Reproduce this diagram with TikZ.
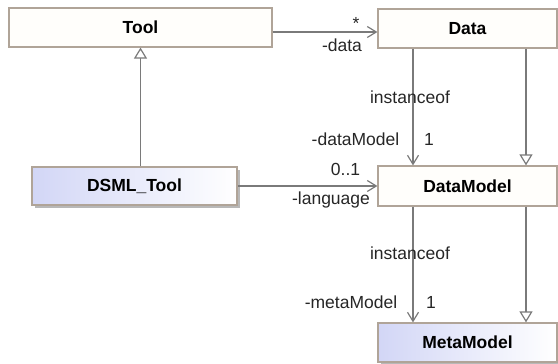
\documentclass[tikz,border=0pt]{standalone}
\usepackage{fontspec}
\setmainfont{Liberation Sans}
\usetikzlibrary{arrows.meta,shadows}

\definecolor{edgegray}{HTML}{7A7A7A}
\definecolor{boxborder}{HTML}{B0A498}
\definecolor{boxfill}{HTML}{FFFEFB}
\definecolor{lavender}{HTML}{D2D6F6}

\tikzset{
  classbox/.style={draw=boxborder, line width=1.2pt, fill=boxfill, rectangle,
    inner sep=0pt, font=\fontsize{17.5}{20}\selectfont\bfseries},
  specialbox/.style={classbox, left color=lavender, right color=white,
    drop shadow={shadow xshift=3pt, shadow yshift=-3pt, fill=black!28, opacity=1}},
  link/.style={draw=edgegray, line width=1.3pt},
  assoc/.style={link, -{Straight Barb[length=9pt,width=11pt,line width=1.2pt]}},
  inherit/.style={link, -{Triangle[open,length=11pt,width=13pt,fill=white,line width=1.2pt]}},
  lbl/.style={font=\fontsize{17.5}{20}\selectfont, inner sep=0pt, text=black!85},
}

\begin{document}
\begin{tikzpicture}[x=1pt,y=-1pt]
  \useasboundingbox (0,0) rectangle (558,364);

  % classes
  \node[classbox, minimum width=263pt, minimum height=39pt] (tool) at (140.5,27.5) {Tool};
  \node[classbox, minimum width=179pt, minimum height=39pt] (data) at (467.5,28.5) {Data};
  \node[specialbox, minimum width=205pt, minimum height=38pt] (dsml) at (134.5,186) {DSML\_Tool};
  \node[classbox, minimum width=179pt, minimum height=40pt] (dm) at (467.5,186) {DataModel};
  \node[specialbox, minimum width=179pt, minimum height=39pt] (mm) at (467.5,342.5) {MetaModel};

  % generalisation DSML_Tool -> Tool
  \draw[inherit] (tool.south |- dsml.north) -- (tool.south);

  % association Tool -> Data
  \draw[assoc] ([yshift=-4.5pt]tool.east) -- ([yshift=-3.5pt]data.west);
  \node[lbl] (star) at (356,23) {*};
  \node[lbl] (ldata) at (342,45) {-data};

  % Data -> DataModel
  \draw[assoc] ([xshift=-54.5pt]data.south) -- ([xshift=-54.5pt]dm.north);
  \draw[inherit] ([xshift=58.5pt]data.south) -- ([xshift=58.5pt]dm.north);
  \node[lbl] (inst1) at (410,97) {instanceof};
  \node[lbl] (ldm) at (355.5,139) {-dataModel};
  \node[lbl] (one1) at (429,139) {1};

  % DSML_Tool -> DataModel
  \draw[assoc] (dsml.east) -- (dm.west);
  \node[lbl] (mult) at (345.5,169) {0..1};
  \node[lbl] (llang) at (331,200) {-language};

  % DataModel -> MetaModel
  \draw[assoc] ([xshift=-54.5pt]dm.south) -- ([xshift=-54.5pt]mm.north);
  \draw[inherit] ([xshift=58.5pt]dm.south) -- ([xshift=58.5pt]mm.north);
  \node[lbl] (inst2) at (410,253) {instanceof};
  \node[lbl] (lmm) at (351,302) {-metaModel};
  \node[lbl] (one2) at (431,302) {1};
\end{tikzpicture}
\end{document}
